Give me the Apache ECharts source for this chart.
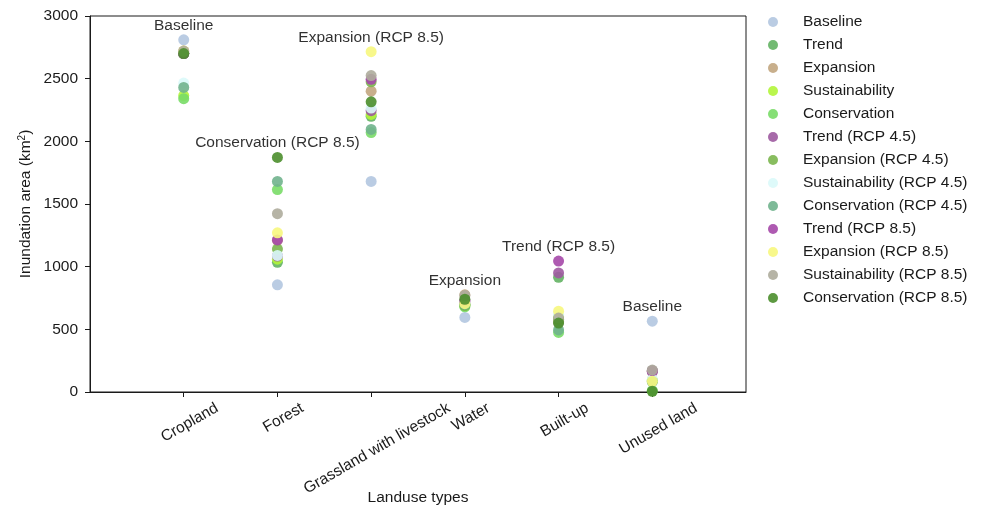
<!DOCTYPE html>
<html>
<head>
<meta charset="utf-8">
<script src="https://cdn.jsdelivr.net/npm/echarts@6/dist/echarts.min.js"></script>
<style>
html,body{margin:0;padding:0;background:#fff;}
#chart{width:985px;height:506px;}
</style>
</head>
<body>
<div id="chart"></div>
<script>
// ---- data ----
const categories = ['Cropland', 'Forest', 'Grassland with livestock', 'Water', 'Built-up', 'Unused land'];
const seriesNames = ['Baseline', 'Trend', 'Expansion', 'Sustainability', 'Conservation',
  'Trend (RCP 4.5)', 'Expansion (RCP 4.5)', 'Sustainability (RCP 4.5)', 'Conservation (RCP 4.5)',
  'Trend (RCP 8.5)', 'Expansion (RCP 8.5)', 'Sustainability (RCP 8.5)', 'Conservation (RCP 8.5)'];
const yTicks = [0, 500, 1000, 1500, 2000, 2500, 3000];

const baseline        = [2810,  855, 1680, 595, 560, 565];
const trend           = [2700, 1035, 2200, 700, 915, 170];
const expansion       = [2720, 1210, 2400, 775, 560, 165];
const sustainability  = [2365, 1060, 2215, 690, 600,  95];
const conservation    = [2340, 1615, 2070, 680, 475,  10];
const trend45         = [2700, 1085, 2245, 720, 950, 160];
const expansion45     = [2700, 1140, 2475, 690, 580,  90];
const sustainability45= [2465, 1090, 2265, 710, 620, 100];
const conservation45  = [2430, 1680, 2095, 700, 495,  80];
const trend85         = [2700, 1213, 2495, 730, 1045, 170];
const expansion85     = [2720, 1270, 2715, 705, 645,  85];
const sustainability85= [2720, 1423, 2525, 770, 590, 175];
const conservation85  = [2700, 1872, 2315, 740, 550,   5];

const allValues = [baseline, trend, expansion, sustainability, conservation,
  trend45, expansion45, sustainability45, conservation45,
  trend85, expansion85, sustainability85, conservation85];

const colors = ['#b3c6e0', '#63b363', '#c2a67f', '#b2f53a', '#79dc67',
  '#9d5aa0', '#7bb64e', '#daf9fa', '#70b38d',
  '#a548a8', '#f7f77e', '#aeac9c', '#4b8e2c'];

// ---- styling helpers ----
const FONT = '"Liberation Sans", Arial, Helvetica, sans-serif';
const FS = 15.5;
const TXT = '#1a1a1a';
const axisCats = [''].concat(categories, ['']);

// category labels rotated 30deg, bbox centred under tick (computed from text width)
const cv = document.createElement('canvas').getContext('2d');
cv.font = FS + 'px ' + FONT;
const th = 30 * Math.PI / 180, H = 16, DX = 6;
const rich = {};
categories.forEach((c, i) => {
  const L = cv.measureText(c).width;
  let padT = (L * Math.sin(th) * Math.cos(th) - H * Math.sin(th) * Math.sin(th)) / 2;
  let padR = Math.sin(th) * (L * Math.sin(th) + H * Math.cos(th));
  padR = Math.max(0, padR - 2 * DX * Math.cos(th));
  padT = Math.max(0, padT + DX * Math.sin(th));
  rich['c' + i] = { fontSize: FS, fontFamily: FONT, color: TXT, padding: [padT, padR, 0, 0] };
});

// which series is the maximum in each category -> annotation
const maxIdx = categories.map((c, i) => {
  let best = 0;
  allValues.forEach((arr, s) => { if (arr[i] > allValues[best][i]) best = s; });
  return best;
});

const series = seriesNames.map((name, s) => ({
  name: name,
  type: 'scatter',
  symbol: 'circle',
  symbolSize: 11,
  itemStyle: { color: colors[s], opacity: 0.9 },
  emphasis: { disabled: true },
  label: {
    show: false, position: 'top', distance: 1, formatter: '{a}',
    fontSize: FS, fontFamily: FONT, color: TXT
  },
  data: categories.map((c, i) => ({ value: [c, allValues[s][i]], label: { show: maxIdx[i] === s } }))
}));

const chart = echarts.init(document.getElementById('chart'), null, { renderer: 'canvas' });
chart.setOption({
  animation: false,
  backgroundColor: '#fff',
  textStyle: { fontFamily: FONT },
  grid: { left: 90, right: 239, top: 16, bottom: 114, show: true, borderColor: TXT, borderWidth: 1,
    backgroundColor: 'transparent', containLabel: false, outerBoundsMode: 'none' },
  legend: {
    orient: 'vertical', left: 763, top: 9, itemGap: 7,
    itemWidth: 50, itemHeight: 10, icon: 'circle',
    textStyle: { fontSize: FS, fontFamily: FONT, color: TXT },
    data: seriesNames
  },
  xAxis: {
    type: 'category', data: axisCats, boundaryGap: false,
    name: 'Landuse types', nameLocation: 'middle', nameGap: 98, nameMoveOverlap: false,
    nameTextStyle: { fontSize: FS, fontFamily: FONT, color: TXT },
    axisLine: { show: true, lineStyle: { color: TXT, width: 1 } },
    axisTick: { show: true, length: 5, inside: false, lineStyle: { color: TXT }, interval: (idx, v) => v !== '' },
    axisLabel: {
      interval: 0, rotate: 30, margin: 8, align: 'center', verticalAlign: 'top',
      formatter: (v, idx) => v ? '{c' + (idx - 1) + '|' + v + '}' : '',
      rich: rich
    },
    splitLine: { show: false }
  },
  yAxis: {
    type: 'value', min: yTicks[0], max: yTicks[yTicks.length - 1], interval: 500,
    name: 'Inundation area (km{sup|2})', nameLocation: 'middle', nameGap: 55, nameRotate: 90, nameMoveOverlap: false,
    nameTextStyle: { fontSize: FS, fontFamily: FONT, color: TXT, rich: { sup: { fontSize: 10, fontFamily: FONT, color: TXT, verticalAlign: 'bottom', padding: [0, 0, 8, 0] } } },
    axisLine: { show: true, lineStyle: { color: TXT, width: 1 } },
    axisTick: { show: true, length: 5, inside: false, lineStyle: { color: TXT } },
    axisLabel: { fontSize: FS, fontFamily: FONT, color: TXT, margin: 12, formatter: v => String(v) },
    splitLine: { show: false }
  },
  series: series
});
</script>
</body>
</html>
